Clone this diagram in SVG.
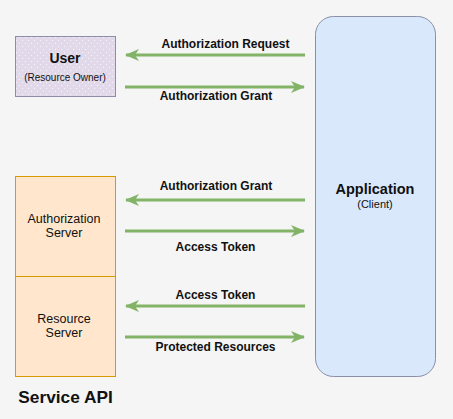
<svg xmlns="http://www.w3.org/2000/svg" width="453" height="419" viewBox="0 0 453 419">
<style>
text{font-family:"Liberation Sans",Arial,Helvetica,sans-serif;fill:#111;text-anchor:middle}
.b{font-weight:bold}
.lbl{font-size:12px;font-weight:bold}
.srv{font-size:12.5px}
.conn{stroke:#82b366;stroke-width:3;fill:none}
.orange{fill:#ffe6cc;stroke:#d79b00;stroke-width:1}
</style>
<defs>
<pattern id="dots" width="6" height="6" patternUnits="userSpaceOnUse">
<rect width="6" height="6" fill="#e1d8e9"/>
<circle cx="1.5" cy="1.5" r="0.7" fill="#f6f2f8"/>
<circle cx="4.5" cy="4.5" r="0.7" fill="#f6f2f8"/>
</pattern>
<marker id="ah" viewBox="0 0 14 12" refX="13" refY="6" markerWidth="14" markerHeight="12" markerUnits="userSpaceOnUse" orient="auto">
<path d="M0,0 L14,6 L0,12 L4,6 Z" fill="#82b366"/>
</marker>
</defs>
<rect width="453" height="419" fill="#f5f5f5"/>
<g id="user">
<rect x="15.5" y="36.5" width="100" height="60" fill="url(#dots)" stroke="#8e8ea9" stroke-width="1"/>
<text x="65" y="63" class="b" font-size="14">User</text>
<text x="65" y="81" font-size="10">(Resource Owner)</text>
</g>
<g id="application">
<rect x="315.5" y="16.5" width="120" height="360" rx="18" ry="18" fill="#dae8fc" stroke="#8a8fa8" stroke-width="1"/>
<text x="375" y="194" class="b" font-size="14.5">Application</text>
<text x="375" y="208" font-size="11">(Client)</text>
</g>
<g id="authorization-server">
<rect class="orange" x="15.5" y="176.5" width="100" height="100"/>
<text x="64" y="223" class="srv">Authorization</text>
<text x="64" y="237" class="srv">Server</text>
</g>
<g id="resource-server">
<rect class="orange" x="15.5" y="276.5" width="100" height="100"/>
<text x="64" y="323" class="srv">Resource</text>
<text x="64" y="337" class="srv">Server</text>
</g>
<g id="service-api">
<text x="65.5" y="403" class="b" font-size="17.3">Service API</text>
</g>
<g id="connectors">
<line class="conn" x1="305" y1="55" x2="126" y2="55" marker-end="url(#ah)"/>
<line class="conn" x1="125" y1="87" x2="304" y2="87" marker-end="url(#ah)"/>
<line class="conn" x1="305" y1="200" x2="126" y2="200" marker-end="url(#ah)"/>
<line class="conn" x1="125" y1="231" x2="304" y2="231" marker-end="url(#ah)"/>
<line class="conn" x1="305" y1="306" x2="126" y2="306" marker-end="url(#ah)"/>
<line class="conn" x1="125" y1="337" x2="304" y2="337" marker-end="url(#ah)"/>
<text x="225.5" y="48" class="lbl">Authorization Request</text>
<text x="216" y="100" class="lbl">Authorization Grant</text>
<text x="216" y="190" class="lbl">Authorization Grant</text>
<text x="215.5" y="251" class="lbl">Access Token</text>
<text x="215.5" y="299" class="lbl">Access Token</text>
<text x="215.5" y="351" class="lbl">Protected Resources</text>
</g>
</svg>
